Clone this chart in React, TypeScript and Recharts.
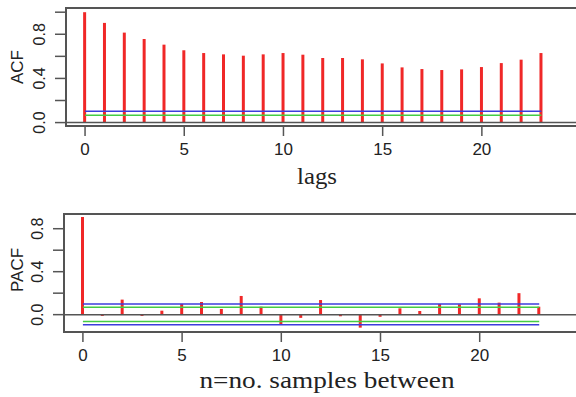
import React from "react";
import {
  ComposedChart,
  Bar,
  XAxis,
  YAxis,
  ReferenceLine,
  ReferenceArea,
  Customized,
} from "recharts";

// ---- data ----
const lags = [0, 1, 2, 3, 4, 5, 6, 7, 8, 9, 10, 11, 12, 13, 14, 15, 16, 17, 18, 19, 20, 21, 22, 23];
const acfValues = [
  1.0, 0.903, 0.815, 0.757, 0.706, 0.655, 0.63, 0.618, 0.606, 0.618, 0.63, 0.615,
  0.585, 0.585, 0.573, 0.536, 0.5, 0.485, 0.476, 0.482, 0.503, 0.539, 0.57, 0.63,
];
const pacfValues = [
  0.909, -0.012, 0.14, -0.012, 0.037, 0.1, 0.118, 0.053, 0.174, 0.074, -0.087, -0.03,
  0.136, -0.015, -0.121, -0.02, 0.059, 0.034, 0.099, 0.096, 0.152, 0.112, 0.2, 0.074,
];
const xTicks = [0, 5, 10, 15, 20];
const yTicksAcf = [0, 0.2, 0.4, 0.6, 0.8, 1.0];
const yTicksPacf = [0, 0.2, 0.4, 0.6, 0.8];
const acfBlue = [0.103];
const acfGreen = [0.066];
const pacfBlue = [0.1, -0.095];
const pacfGreen = [0.068, -0.063];

const acfData = lags.map((lag, i) => ({ lag, v: acfValues[i] }));
const pacfData = lags.map((lag, i) => ({ lag, v: pacfValues[i] }));

const RED = "#f02828";
const BLUE = "#3c3cdc";
const GREEN = "#44cc44";
const AXIS = "#555";
const SANS = "'Liberation Sans', Arial, sans-serif";
const SERIF = "'Liberation Serif', 'Times New Roman', serif";

const YTick = (props: any) => {
  const { x, y, payload } = props;
  const v = payload.value;
  const show = Math.round(v * 10) % 4 === 0;
  if (!show) return <g />;
  const cx = x - 15;
  return (
    <text
      x={cx}
      y={y}
      transform={`rotate(-90, ${cx}, ${y})`}
      textAnchor="middle"
      dominantBaseline="central"
      fontSize={16}
      fontFamily={SANS}
      fill="#222"
    >
      {v.toFixed(1)}
    </text>
  );
};

type PanelProps = {
  data: { lag: number; v: number }[];
  top: number;
  height: number;
  marginTop: number;
  axisHeight: number;
  yAxisWidth: number;
  xDomain: [number, number];
  yDomain: [number, number];
  yTicks: number[];
  blue: number[];
  green: number[];
  yLabel: string;
  yLabelY: number;
  xLabel: string;
  xLabelX: number;
  xLabelY: number;
  xLabelLen: number;
  xLabelSize: number;
};

const Panel = (p: PanelProps) => {
  const W = 640;
  return (
    <div style={{ position: "absolute", left: 0, top: p.top }}>
      <ComposedChart
        width={W}
        height={p.height}
        data={p.data}
        margin={{ top: p.marginTop, right: 0, left: 0, bottom: 0 }}
      >
        <XAxis
          dataKey="lag"
          type="number"
          domain={p.xDomain}
          allowDataOverflow
          ticks={xTicks}
          tickSize={10}
          tickMargin={7}
          stroke={AXIS}
          strokeWidth={1.5}
          tick={{ fontSize: 17, fill: "#222", fontFamily: SANS }}
          height={p.axisHeight}
        />
        <YAxis
          type="number"
          domain={p.yDomain}
          allowDataOverflow
          ticks={p.yTicks}
          tickSize={11}
          tickMargin={0}
          width={p.yAxisWidth}
          stroke={AXIS}
          strokeWidth={1.5}
          tick={<YTick />}
          interval={0}
        />
        <ReferenceArea
          x1={p.xDomain[0]}
          x2={p.xDomain[1]}
          y1={p.yDomain[0]}
          y2={p.yDomain[1]}
          fill="none"
          stroke={AXIS}
          strokeWidth={2}
          ifOverflow="visible"
        />
        <ReferenceLine y={0} stroke={AXIS} strokeWidth={1.5} />
        {p.green.map((g, i) => (
          <ReferenceLine
            key={"g" + i}
            segment={[
              { x: lags[0], y: g },
              { x: lags[lags.length - 1], y: g },
            ]}
            stroke={GREEN}
            strokeWidth={1.5}
          />
        ))}
        {p.blue.map((b, i) => (
          <ReferenceLine
            key={"b" + i}
            segment={[
              { x: lags[0], y: b },
              { x: lags[lags.length - 1], y: b },
            ]}
            stroke={BLUE}
            strokeWidth={1.5}
          />
        ))}
        <Bar dataKey="v" fill={RED} barSize={3} isAnimationActive={false} />
        <Customized
          component={() => (
            <g>
              <text
                x={17}
                y={p.yLabelY}
                transform={`rotate(-90, 17, ${p.yLabelY})`}
                textAnchor="middle"
                dominantBaseline="central"
                fontSize={17}
                fontFamily={SANS}
                fill="#222"
              >
                {p.yLabel}
              </text>
              <text
                x={p.xLabelX}
                y={p.xLabelY}
                textAnchor="middle"
                fontSize={p.xLabelSize}
                fontFamily={SERIF}
                fill="#222"
                textLength={p.xLabelLen}
                lengthAdjust="spacingAndGlyphs"
              >
                {p.xLabel}
              </text>
            </g>
          )}
        />
      </ComposedChart>
    </div>
  );
};

export default function App() {
  return (
    <div
      style={{
        position: "absolute",
        left: 0,
        top: 0,
        width: 576,
        height: 397,
        overflow: "hidden",
        background: "#fff",
      }}
    >
      <Panel
        data={acfData}
        top={0}
        height={200}
        marginTop={8}
        axisHeight={74}
        yAxisWidth={66}
        xDomain={[-0.96, 27.97]}
        yDomain={[-0.031, 1.038]}
        yTicks={yTicksAcf}
        blue={acfBlue}
        green={acfGreen}
        yLabel="ACF"
        yLabelY={67}
        xLabel="lags"
        xLabelX={317}
        xLabelY={184}
        xLabelLen={40}
        xLabelSize={23}
      />
      <Panel
        data={pacfData}
        top={200}
        height={197}
        marginTop={14}
        axisHeight={65}
        yAxisWidth={64}
        xDomain={[-0.953, 28.08]}
        yDomain={[-0.1615, 0.937]}
        yTicks={yTicksPacf}
        blue={pacfBlue}
        green={pacfGreen}
        yLabel="PACF"
        yLabelY={70}
        xLabel="n=no. samples between"
        xLabelX={327}
        xLabelY={188}
        xLabelLen={255}
        xLabelSize={23}
      />
    </div>
  );
}
